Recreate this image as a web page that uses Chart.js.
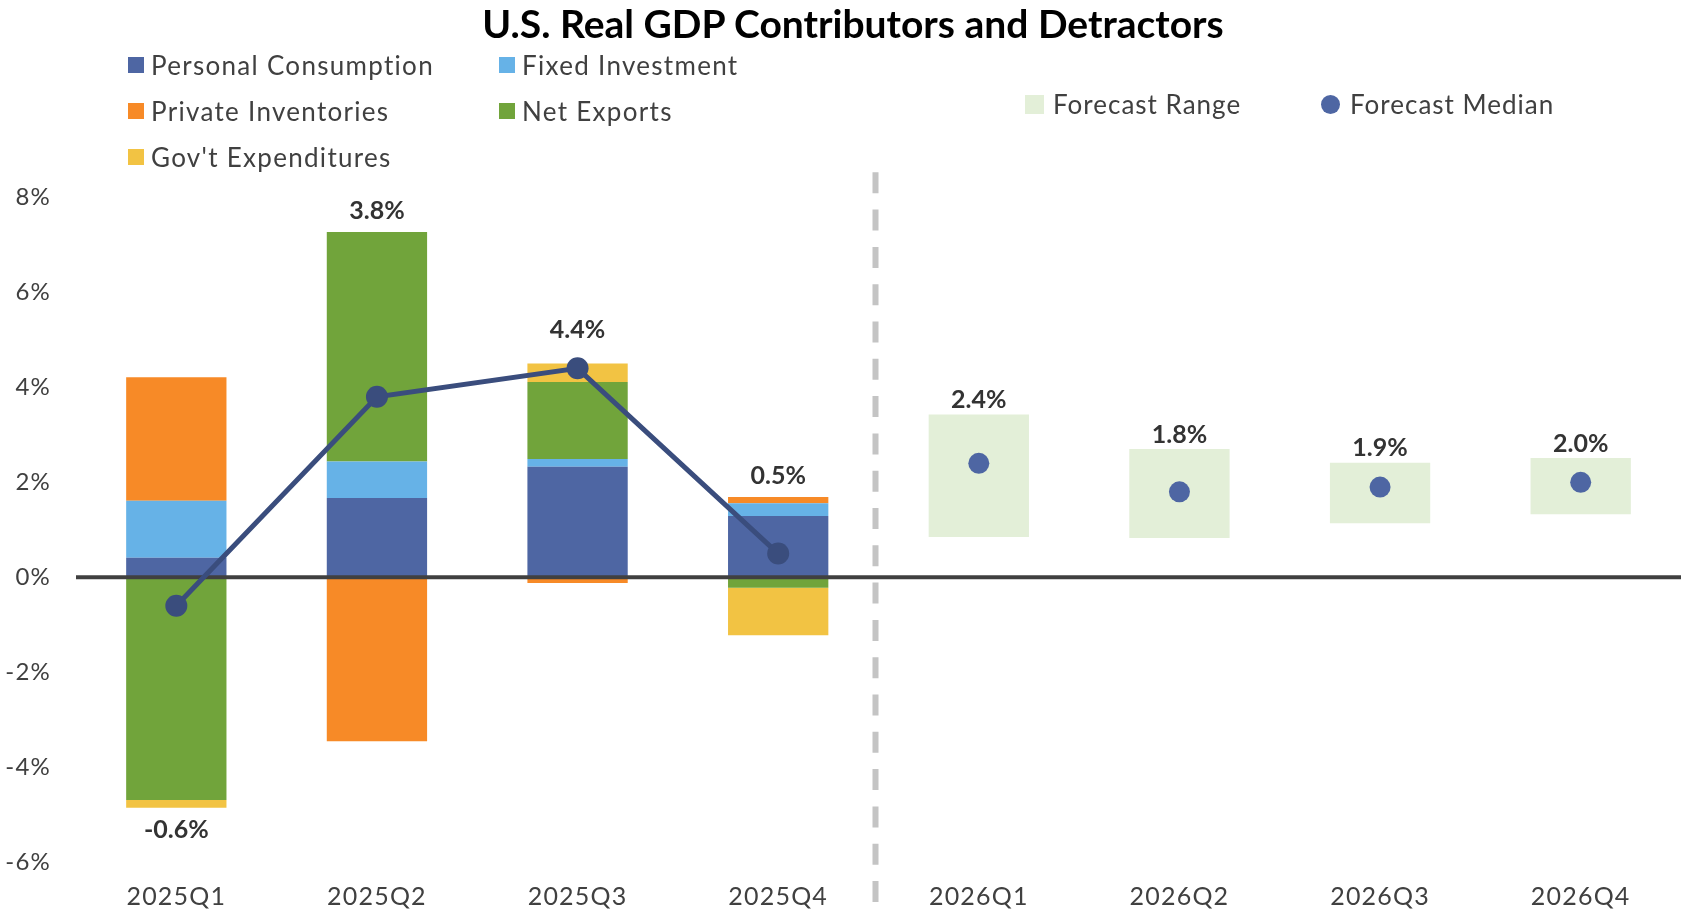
<!DOCTYPE html>
<html>
<head>
<meta charset="utf-8">
<script src="https://cdn.jsdelivr.net/npm/chart.js@4.4.1/dist/chart.umd.min.js"></script>
<style>
  html, body { margin: 0; padding: 0; background: #ffffff; overflow: hidden; }
  #wrap { position: relative; width: 1692px; height: 912px; font-family: Lato, "Open Sans", sans-serif; }
  #chart { position: absolute; left: 0; top: 0; }
  .title { position: absolute; left: 0; top: 0px; width: 1706px; text-align: center;
           font: 700 39px Lato, sans-serif; color: #000; line-height: 1.2; white-space: nowrap; }
  .lg { position: absolute; display: flex; align-items: center; height: 30px;
        font: 400 26px Lato, sans-serif; color: #404040; white-space: nowrap; }
  .lg.left { letter-spacing: 1.3px; }
  .lg.right { letter-spacing: 1px; }
  .sw { display: inline-block; margin-right: 7px; flex: none; }
</style>
</head>
<body>
<div id="wrap">
  <canvas id="chart" width="1692" height="912"></canvas>
  <div class="title">U.S. Real GDP Contributors and Detractors</div>
  <div id="legend"></div>
</div>
<script>
// Quarters on the category axis
const quarters = ['2025Q1', '2025Q2', '2025Q3', '2025Q4', '2026Q1', '2026Q2', '2026Q3', '2026Q4'];

// Contributions to real GDP growth (percentage points, annualized)
const personalConsumption = [0.41, 1.67, 2.33, 1.29, null, null, null, null];
const fixedInvestment     = [1.20, 0.77, 0.16, 0.27, null, null, null, null];
const privateInventories  = [2.60, -3.45, -0.12, 0.13, null, null, null, null];
const netExports          = [-4.69, 4.83, 1.62, -0.22, null, null, null, null];
const govExpenditures     = [-0.16, 0.00, 0.39, -1.00, null, null, null, null];

// Headline real GDP growth (%)
const realGdp = [-0.6, 3.8, 4.4, 0.5, null, null, null, null];

// Forecast survey: low / high of the range and the median (%)
const forecastLow    = [null, null, null, null, 0.85, 0.83, 1.14, 1.33];
const forecastHigh   = [null, null, null, null, 3.43, 2.70, 2.41, 2.51];
const forecastMedian = [null, null, null, null, 2.4, 1.8, 1.9, 2.0];

// Series names, in stacking order
const componentNames = ['Personal Consumption', 'Fixed Investment', 'Private Inventories', 'Net Exports', "Gov't Expenditures"];
const componentValues = [personalConsumption, fixedInvestment, privateInventories, netExports, govExpenditures];

// y-axis range and tick step (%)
const yMin = -6, yMax = 8, yStep = 2;

// Styling
const componentColors = ['#4e66a3', '#66b2e7', '#f78a27', '#71a43b', '#f2c343'];
const lineColor = '#3a4d7d';
const rangeColor = '#e3efd8';
const medianColor = '#4e66a3';
const textColor = '#404040';
const labelColor = '#333333';

// ---- legend (HTML) ----
const legendEl = document.getElementById('legend');
const legendSlots = [
  { left: 128, top: 50 }, { left: 499, top: 50 },
  { left: 128, top: 96 }, { left: 499, top: 96 },
  { left: 128, top: 142 }
];
componentNames.forEach((name, i) => {
  const d = document.createElement('div');
  d.className = 'lg left';
  d.style.left = legendSlots[i].left + 'px';
  d.style.top = legendSlots[i].top + 'px';
  d.innerHTML = '<span class="sw" style="width:16px;height:16px;background:' + componentColors[i] + '"></span>';
  d.appendChild(document.createTextNode(name));
  legendEl.appendChild(d);
});
[
  { name: 'Forecast Range', left: 1025, swatch: 'width:19px;height:19px;margin-right:9px;background:' + rangeColor },
  { name: 'Forecast Median', left: 1321, swatch: 'width:19px;height:19px;margin-right:10px;border-radius:50%;background:' + medianColor }
].forEach(item => {
  const d = document.createElement('div');
  d.className = 'lg right';
  d.style.left = item.left + 'px';
  d.style.top = '89px';
  d.innerHTML = '<span class="sw" style="' + item.swatch + '"></span>';
  d.appendChild(document.createTextNode(item.name));
  legendEl.appendChild(d);
});

// ---- datasets ----
const datasets = [];
componentNames.forEach((name, i) => {
  datasets.push({
    type: 'bar', label: name, data: componentValues[i],
    backgroundColor: componentColors[i], borderWidth: 0,
    categoryPercentage: 0.5, barPercentage: 1.0
  });
});
datasets.push({
  type: 'bar', label: 'Forecast Range',
  data: forecastLow.map((lo, i) => lo === null ? null : [lo, forecastHigh[i]]),
  backgroundColor: rangeColor, borderWidth: 0,
  categoryPercentage: 0.5, barPercentage: 1.0
});
datasets.push({
  type: 'line', label: 'Real GDP', data: realGdp, stack: 'gdp', order: -1,
  borderColor: lineColor, borderWidth: 5, backgroundColor: lineColor,
  pointRadius: 11, pointBackgroundColor: lineColor, pointBorderWidth: 0, spanGaps: false
});
datasets.push({
  type: 'line', label: 'Forecast Median', data: forecastMedian, stack: 'median', order: -1,
  showLine: false, pointRadius: 10.5, pointBackgroundColor: medianColor, pointBorderWidth: 0
});
const gdpIndex = datasets.length - 2;

// ---- drawing extras: tick spacing, divider, zero line, value labels ----
const extras = {
  id: 'extras',
  beforeDraw(chart) {
    // slightly open tracking for the axis labels
    chart.ctx.letterSpacing = '1.2px';
  },
  beforeDatasetsDraw(chart) {
    chart.$zeroDone = false;
    const { ctx, chartArea, scales: { x } } = chart;
    const xd = (x.getPixelForValue(3) + x.getPixelForValue(4)) / 2 - 3;
    ctx.save();
    ctx.strokeStyle = '#c4c4c4';
    ctx.lineWidth = 6;
    ctx.setLineDash([21, 16.3]);
    ctx.beginPath();
    ctx.moveTo(xd, chartArea.top - 25);
    ctx.lineTo(xd, chartArea.bottom + 41);
    ctx.stroke();
    ctx.restore();
  },
  beforeDatasetDraw(chart, args) {
    if (args.meta.type !== 'line' || chart.$zeroDone) return;
    chart.$zeroDone = true;
    const { ctx, chartArea, scales: { y } } = chart;
    const y0 = y.getPixelForValue(0);
    ctx.save();
    ctx.strokeStyle = '#404040';
    ctx.lineWidth = 4;
    ctx.beginPath();
    ctx.moveTo(chartArea.left, y0);
    ctx.lineTo(chartArea.right, y0);
    ctx.stroke();
    ctx.restore();
  },
  afterDatasetsDraw(chart) {
    const { ctx, scales: { x, y } } = chart;
    const r = chart.data.datasets[gdpIndex].pointRadius;
    ctx.save();
    ctx.letterSpacing = '0px';
    ctx.font = '700 25px Lato, sans-serif';
    ctx.fillStyle = labelColor;
    ctx.textAlign = 'center';
    ctx.textBaseline = 'middle';
    quarters.forEach((q, i) => {
      const cx = x.getPixelForValue(i);
      if (realGdp[i] !== null) {
        let pos = 0, neg = 0;
        componentValues.forEach(arr => { const v = arr[i]; if (v > 0) pos += v; else if (v < 0) neg += v; });
        let ly;
        if (realGdp[i] >= 0) {
          ly = Math.min(y.getPixelForValue(pos) - 21, y.getPixelForValue(realGdp[i]) - r - 27);
        } else {
          ly = y.getPixelForValue(neg) + 22;
        }
        ctx.fillText(realGdp[i].toFixed(1) + '%', cx, ly);
      } else if (forecastMedian[i] !== null) {
        ctx.fillText(forecastMedian[i].toFixed(1) + '%', cx, y.getPixelForValue(forecastHigh[i]) - 14.5);
      }
    });
    ctx.restore();
  }
};

new Chart(document.getElementById('chart'), {
  data: { labels: quarters, datasets },
  options: {
    responsive: false,
    animation: false,
    layout: { padding: { top: 197.3, right: 8, bottom: 0, left: 0 } },
    plugins: { legend: { display: false }, title: { display: false }, tooltip: { enabled: false } },
    scales: {
      x: {
        stacked: true,
        grid: { display: false, drawTicks: false },
        border: { display: false },
        ticks: { color: textColor, font: { family: 'Lato', size: 25 }, padding: 20, maxRotation: 0 },
        afterFit(s) { s.height = 49.7; }
      },
      y: {
        stacked: true,
        min: yMin, max: yMax,
        grid: { display: false, drawTicks: false },
        border: { display: false },
        ticks: { stepSize: yStep, color: textColor, font: { family: 'Lato', size: 24 }, padding: 25,
                 callback: v => v + '%' },
        afterFit(s) { s.width = 76; }
      }
    }
  },
  plugins: [extras]
});
</script>
</body>
</html>
